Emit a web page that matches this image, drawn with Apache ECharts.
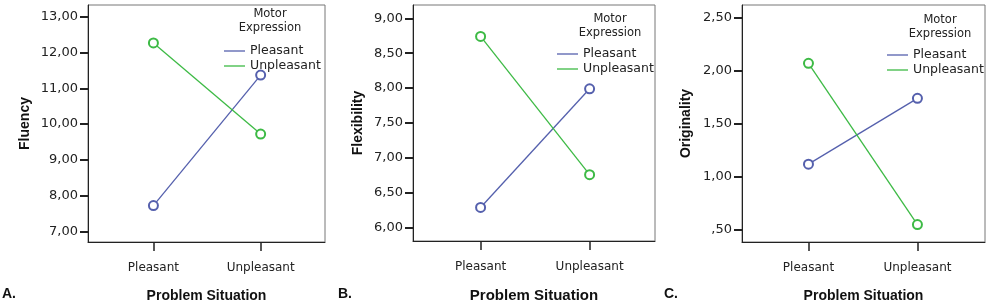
<!DOCTYPE html>
<html>
<head>
<meta charset="utf-8">
<script src="https://cdn.jsdelivr.net/npm/echarts@6/dist/echarts.min.js"></script>
<style>
  html, body { margin: 0; padding: 0; background: #fff; }
  #chart { width: 991px; height: 308px; }
</style>
</head>
<body>
<div id="chart"></div>
<script>
// categories on the x axis
const situations = ['Pleasant', 'Unpleasant'];
const motorNames = ['Pleasant', 'Unpleasant'];

// means (motor expression pleasant / unpleasant)
const fluencyPleasant = [7.72, 11.37];
const fluencyUnpleasant = [12.27, 9.72];
const flexibilityPleasant = [6.29, 7.99];
const flexibilityUnpleasant = [8.74, 6.76];
const originalityPleasant = [1.12, 1.74];
const originalityUnpleasant = [2.07, 0.55];

// tick labels
const fluencyTicks = [7, 8, 9, 10, 11, 12, 13];
const flexibilityTicks = [6, 6.5, 7, 7.5, 8, 8.5, 9];
const originalityTicks = [0.5, 1, 1.5, 2, 2.5];

const BLUE = '#5560ad';
const GREEN = '#3dba45';

const chart = echarts.init(document.getElementById('chart'));

function fmt(v) {
  let s = v.toFixed(2).replace('.', ',');
  if (s.startsWith('0,')) s = s.slice(1); // SPSS style ",50"
  return s;
}

const panels = [
  { grid: { left: 88, top: 5, width: 237, height: 242 }, name: 'Fluency', min: 6.7, max: 13.33, ticks: fluencyTicks,
    xmin: -0.61, xmax: 1.6, data: [fluencyPleasant, fluencyUnpleasant], xName: 14, yGap: 56,
    legend: { left: 224, top: 44 }, title: { x: 270, y: 7 }, letter: { x: 2, t: 'A.' } },
  { grid: { left: 413, top: 5, width: 242, height: 241 }, name: 'Flexibility', min: 5.81, max: 9.19, ticks: flexibilityTicks,
    xmin: -0.62, xmax: 1.6, data: [flexibilityPleasant, flexibilityUnpleasant], xName: 15, yGap: 48,
    legend: { left: 557, top: 47 }, title: { x: 610, y: 12 }, letter: { x: 338, t: 'B.' } },
  { grid: { left: 742, top: 5, width: 243, height: 242 }, name: 'Originality', min: 0.386, max: 2.62, ticks: originalityTicks,
    xmin: -0.61, xmax: 1.62, data: [originalityPleasant, originalityUnpleasant], xName: 14, yGap: 49,
    legend: { left: 887, top: 48 }, title: { x: 940, y: 13 }, letter: { x: 664, t: 'C.' } }
];

const grids = [], xAxes = [], yAxes = [], series = [], legends = [], graphics = [];

panels.forEach((p, i) => {
  grids.push(Object.assign({ show: true, borderColor: '#777', borderWidth: 1, containLabel: false }, p.grid));
  xAxes.push({
    type: 'value', gridIndex: i, min: p.xmin, max: p.xmax,
    name: 'Problem Situation', nameLocation: 'middle', nameGap: 47,
    nameTextStyle: { fontFamily: 'Liberation Sans', fontWeight: 'bold', fontSize: p.xName, color: '#111' },
    splitLine: { show: false },
    axisLine: { onZero: false, lineStyle: { color: '#222', width: 1 } },
    axisTick: { show: true, customValues: [0, 1], length: 9, lineStyle: { color: '#222', width: 1.5 } },
    axisLabel: { customValues: [0, 1], margin: 20, fontFamily: 'DejaVu Sans', fontSize: 12, color: '#222',
      formatter: v => situations[Math.round(v)] }
  });
  yAxes.push({
    type: 'value', gridIndex: i, min: p.min, max: p.max,
    name: p.name, nameLocation: 'middle', nameGap: p.yGap, nameRotate: 90,
    nameTextStyle: { fontFamily: 'Liberation Sans', fontWeight: 'bold', fontSize: 14, color: '#111' },
    splitLine: { show: false },
    axisLine: { show: true, onZero: false, lineStyle: { color: '#222', width: 1 } },
    axisTick: { show: true, customValues: p.ticks, length: 8, lineStyle: { color: '#222', width: 2 } },
    axisLabel: { customValues: p.ticks, margin: 10, fontFamily: 'DejaVu Sans', fontSize: 13, color: '#222',
      formatter: v => fmt(v) }
  });
  [BLUE, GREEN].forEach((c, k) => {
    series.push({
      type: 'line', name: motorNames[k], xAxisIndex: i, yAxisIndex: i,
      data: p.data[k].map((v, j) => [j, v]),
      symbol: 'emptyCircle', symbolSize: 9, showSymbol: true,
      lineStyle: { color: c, width: 1.3 }, itemStyle: { color: c, borderWidth: 1.3 },
      emphasis: { disabled: true }, animation: false
    });
  });
  legends.push({
    data: motorNames, orient: 'vertical', left: p.legend.left, top: p.legend.top,
    padding: 0, icon: 'rect', itemWidth: 21, itemHeight: 1.3, itemGap: 1,
    selectedMode: false,
    textStyle: { fontFamily: 'DejaVu Sans', fontSize: 12.5, color: '#222', lineHeight: 14, padding: [0, 0, 0, 0] }
  });
  graphics.push({
    type: 'text', x: p.title.x, y: p.title.y,
    style: { text: 'Motor\nExpression', align: 'center', fontFamily: 'DejaVu Sans', fontSize: 11.5,
      lineHeight: 14, fill: '#222' }
  });
  graphics.push({
    type: 'text', left: p.letter.x, top: 287,
    style: { text: p.letter.t, fontFamily: 'Liberation Sans', fontWeight: 'bold', fontSize: 14, fill: '#111' }
  });
});

chart.setOption({
  animation: false,
  grid: grids,
  xAxis: xAxes,
  yAxis: yAxes,
  legend: legends,
  series: series,
  graphic: graphics
});
</script>
</body>
</html>
